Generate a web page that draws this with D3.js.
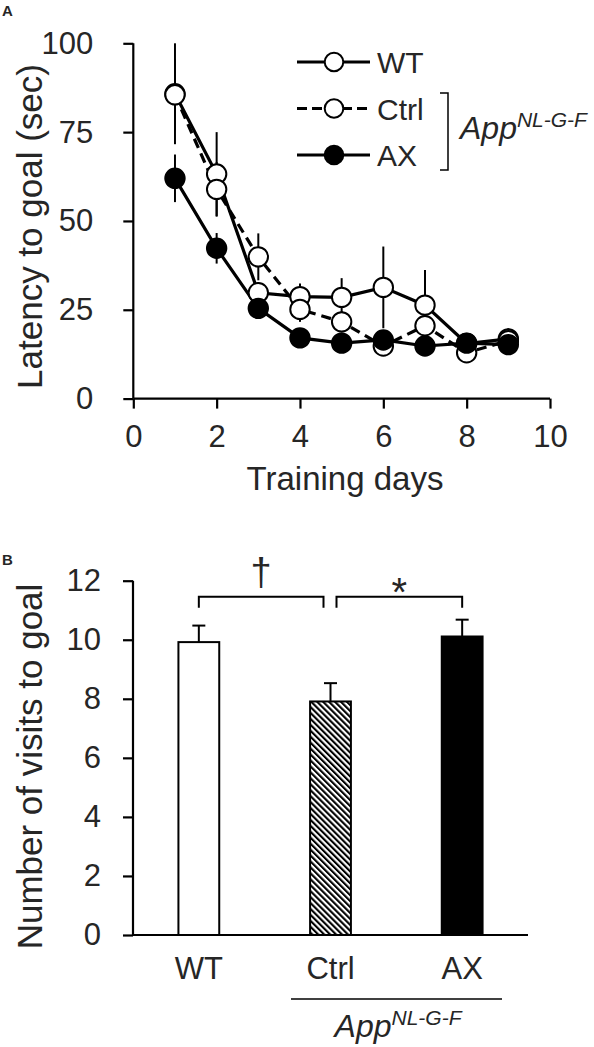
<!DOCTYPE html>
<html><head><meta charset="utf-8">
<script src="https://cdn.jsdelivr.net/npm/d3@7"></script>
<style>
html,body{margin:0;padding:0;background:#fff;}
svg{display:block;font-family:"Liberation Sans",Arial,sans-serif;}
</style></head>
<body>
<svg id="chart" width="594" height="1047"></svg>
<script>
// ---------- Data: Panel A ----------
const days = [1, 2, 3, 4, 5, 6, 7, 8, 9];
const wtMean   = [85.8, 63.2, 29.8, 28.7, 28.5, 31.3, 26.3, 15.5, 16.8];
const wtSE     = [14.2, 11.8, 3.0, 3.7, 5.4, 11.5, 9.9, 2.0, 3.0];
const ctrlMean = [85.5, 58.9, 39.9, 25.1, 21.6, 14.8, 20.5, 12.9, 16.3];
const ctrlSE   = [10.0, 7.7, 6.6, 3.5, 3.0, 2.0, 4.0, 1.5, 2.0];
const axMean   = [62.0, 42.3, 25.4, 17.1, 15.6, 16.5, 14.8, 15.6, 15.2];
const axSE     = [6.7, 4.3, 2.5, 1.5, 1.5, 1.5, 1.5, 1.5, 1.5];
const seriesNames = ["WT", "Ctrl", "AX"];
const yTicksA = [0, 25, 50, 75, 100];
const xTicksA = [0, 2, 4, 6, 8, 10];

// ---------- Data: Panel B ----------
const groups = ["WT", "Ctrl", "AX"];
const visits = [9.92, 7.91, 10.11];
const visitsSE = [0.56, 0.62, 0.57];
const yTicksB = [0, 2, 4, 6, 8, 10, 12];

const txt = "#262626";
const svg = d3.select("#chart");

// pattern
const defs = svg.append("defs");
const pat = defs.append("pattern").attr("id","hatch").attr("patternUnits","userSpaceOnUse")
  .attr("width",4.2).attr("height",4.2).attr("patternTransform","rotate(-45)");
pat.append("rect").attr("width",4.2).attr("height",4.2).attr("fill","#fff");
pat.append("line").attr("x1",1).attr("x2",1).attr("y1",0).attr("y2",4.2)
  .attr("stroke","#000").attr("stroke-width",2.2);

// ---------- Panel A ----------
const xA = d3.scaleLinear().domain([0,10]).range([133.3, 550]);
const yA = d3.scaleLinear().domain([0,100]).range([398.6, 43.3]);

svg.append("text").attr("x",2).attr("y",16).attr("font-size",15).attr("font-weight","bold")
  .attr("fill",txt).text("A");

const gAy = svg.append("g").attr("transform",`translate(${xA(0)},0)`)
  .call(d3.axisLeft(yA).tickValues(yTicksA).tickSize(10).tickPadding(30).tickFormat(d3.format("d")));
const gAx = svg.append("g").attr("transform",`translate(0,${yA(0)})`)
  .call(d3.axisBottom(xA).tickValues(xTicksA).tickSize(10).tickPadding(16).tickFormat(d3.format("d")));
[gAy,gAx].forEach(g=>{
  g.select(".domain").attr("stroke","#000").attr("stroke-width",2.2);
  g.selectAll(".tick line").attr("stroke","#000").attr("stroke-width",2.2);
  g.selectAll(".tick text").attr("font-size",31).attr("fill",txt).attr("font-family","Liberation Sans, Arial, sans-serif");
});
gAy.select(".domain").attr("d",`M-0,${yA(100)}V${yA(0)}`);
gAx.select(".domain").attr("d",`M${xA(0)},0H${xA(10)}`);

svg.append("text").attr("transform",`translate(42,${226.5}) rotate(-90)`).attr("text-anchor","middle")
  .attr("font-size",35).attr("fill",txt).text("Latency to goal (sec)");
svg.append("text").attr("x",345).attr("y",490).attr("text-anchor","middle")
  .attr("font-size",33).attr("fill",txt).text("Training days");

const series = [
  {name:"WT", mean:wtMean, se:wtSE, fill:"#fff", dash:null},
  {name:"Ctrl", mean:ctrlMean, se:ctrlSE, fill:"#fff", dash:"10,6"},
  {name:"AX", mean:axMean, se:axSE, fill:"#000", dash:null}
];

// error bars
series.forEach(s=>{
  svg.append("g").selectAll("line").data(days).join("line")
    .attr("x1",(d)=>xA(d)).attr("x2",(d)=>xA(d))
    .attr("y1",(d,i)=>yA(s.mean[i]+s.se[i])).attr("y2",(d,i)=>yA(s.mean[i]-s.se[i]))
    .attr("stroke","#000").attr("stroke-width",2);
});
// lines
const lineGen = d3.line().x(d=>xA(d[0])).y(d=>yA(d[1]));
series.forEach(s=>{
  svg.append("path").datum(days.map((d,i)=>[d,s.mean[i]])).attr("d",lineGen)
    .attr("fill","none").attr("stroke","#000").attr("stroke-width",3.2)
    .attr("stroke-dasharray",s.dash);
});
// markers
series.forEach(s=>{
  svg.append("g").selectAll("circle").data(days).join("circle")
    .attr("cx",d=>xA(d)).attr("cy",(d,i)=>yA(s.mean[i])).attr("r",9.7)
    .attr("fill",s.fill).attr("stroke","#000").attr("stroke-width",2);
});

// legend
const legY = d3.scalePoint().domain(seriesNames).range([62,155]);
series.forEach(s=>{
  const y = legY(s.name);
  svg.append("line").attr("x1",297).attr("x2",370).attr("y1",y).attr("y2",y)
    .attr("stroke","#000").attr("stroke-width",3.2).attr("stroke-dasharray",s.dash ? "10,5" : null);
  svg.append("circle").attr("cx",334).attr("cy",y).attr("r",9.3)
    .attr("fill",s.fill).attr("stroke","#000").attr("stroke-width",2);
  svg.append("text").attr("x",377).attr("y",y+11).attr("font-size",30).attr("fill",txt).text(s.name);
});
svg.append("path").attr("d","M440,93H448V170H440").attr("fill","none").attr("stroke","#000").attr("stroke-width",1.5);
const appA = svg.append("text").attr("x",460).attr("y",139).attr("font-size",32).attr("font-style","italic").attr("fill",txt);
appA.append("tspan").text("App");
appA.append("tspan").attr("dy",-12).attr("font-size",21).text("NL-G-F");

// ---------- Panel B ----------
const xB = d3.scaleBand().domain(groups).range([133,528]).paddingInner(0.69).paddingOuter(0.345);
const yB = d3.scaleLinear().domain([0,12]).range([935,580.7]);

svg.append("text").attr("x",2).attr("y",565).attr("font-size",15).attr("font-weight","bold")
  .attr("fill",txt).text("B");

const barFill = ["#fff","url(#hatch)","#000"];
svg.append("g").selectAll("rect").data(groups).join("rect")
  .attr("x",d=>xB(d)).attr("width",xB.bandwidth())
  .attr("y",(d,i)=>yB(visits[i])).attr("height",(d,i)=>yB(0)-yB(visits[i]))
  .attr("fill",(d,i)=>barFill[i]).attr("stroke","#000").attr("stroke-width",2);
// error bars
const eb = svg.append("g");
groups.forEach((g,i)=>{
  const cx = xB(g)+xB.bandwidth()/2;
  eb.append("line").attr("x1",cx).attr("x2",cx).attr("y1",yB(visits[i])).attr("y2",yB(visits[i]+visitsSE[i]))
    .attr("stroke","#000").attr("stroke-width",2);
  eb.append("line").attr("x1",cx-6.5).attr("x2",cx+6.5).attr("y1",yB(visits[i]+visitsSE[i])).attr("y2",yB(visits[i]+visitsSE[i]))
    .attr("stroke","#000").attr("stroke-width",2);
});

const gBy = svg.append("g").attr("transform",`translate(133,0)`)
  .call(d3.axisLeft(yB).tickValues(yTicksB).tickSize(10).tickPadding(22).tickFormat(d3.format("d")));
const gBx = svg.append("g").attr("transform",`translate(0,${yB(0)})`)
  .call(d3.axisBottom(xB).tickSize(0).tickPadding(22));
[gBy,gBx].forEach(g=>{
  g.select(".domain").attr("stroke","#000").attr("stroke-width",2.2);
  g.selectAll(".tick line").attr("stroke","#000").attr("stroke-width",2.2);
  g.selectAll(".tick text").attr("font-size",31).attr("fill",txt).attr("font-family","Liberation Sans, Arial, sans-serif");
});
gBy.select(".domain").attr("d",`M0,${yB(12)}V${yB(0)}`);
gBx.select(".domain").attr("d",`M133,0H528`);

svg.append("text").attr("transform",`translate(42,766.5) rotate(-90)`).attr("text-anchor","middle")
  .attr("font-size",35).attr("fill",txt).text("Number of visits to goal");

// significance brackets
const cWT = xB("WT")+xB.bandwidth()/2, cCt = xB("Ctrl")+xB.bandwidth()/2, cAX = xB("AX")+xB.bandwidth()/2;
const bY = 596.7, bL = 11;
svg.append("path").attr("d",`M${cWT},${bY+bL}V${bY}H${cCt-7}V${bY+bL}`).attr("fill","none").attr("stroke","#000").attr("stroke-width",2);
svg.append("path").attr("d",`M${cCt+6},${bY+bL}V${bY}H${cAX}V${bY+bL}`).attr("fill","none").attr("stroke","#000").attr("stroke-width",2);
svg.append("text").attr("x",(cWT+cCt-7)/2).attr("y",585).attr("text-anchor","middle").attr("font-size",38).attr("fill",txt).text("†");
svg.append("text").attr("x",(cCt+6+cAX)/2).attr("y",606).attr("text-anchor","middle").attr("font-size",40).attr("fill",txt).text("*");

// group line & label
svg.append("line").attr("x1",291).attr("x2",502).attr("y1",999).attr("y2",999).attr("stroke","#000").attr("stroke-width",1.5);
const appB = svg.append("text").attr("x",398).attr("y",1037).attr("text-anchor","middle").attr("font-size",32).attr("font-style","italic").attr("fill",txt);
appB.append("tspan").text("App");
appB.append("tspan").attr("dy",-12).attr("font-size",21).text("NL-G-F");
</script>
</body></html>
